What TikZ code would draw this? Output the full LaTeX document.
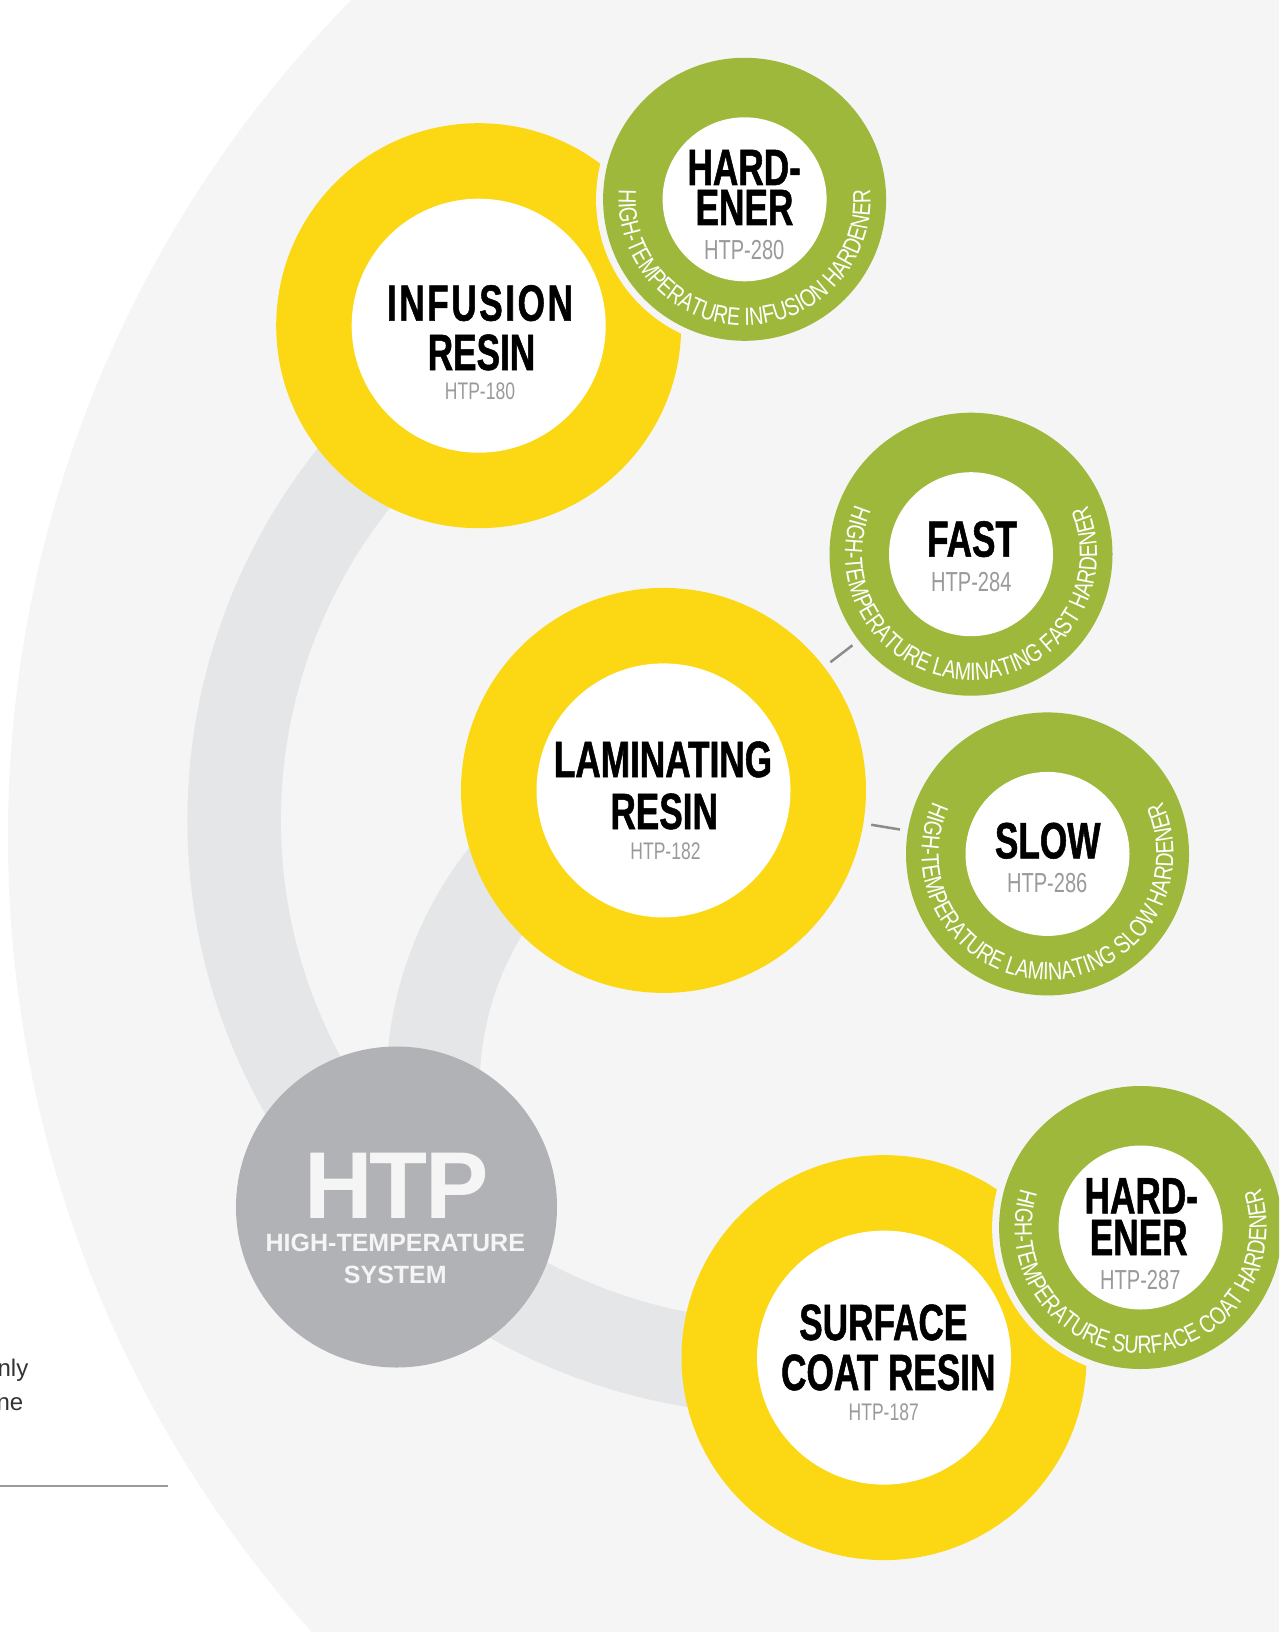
\documentclass[tikz,border=0pt]{standalone}
\usepackage{fontspec}
\setmainfont{Liberation Sans}
\newfontfamily\condfont[FakeStretch=0.69,FakeBold=1]{Liberation Sans}
\newfontfamily\codefont[FakeStretch=0.73]{Liberation Sans}
\newfontfamily\ringfont[FakeStretch=0.78]{Liberation Sans}
\newfontfamily\htpfont{Liberation Sans}
\usetikzlibrary{decorations.text,calc}
\definecolor{bgc}{HTML}{F5F5F5}
\definecolor{yel}{HTML}{FBD813}
\definecolor{grn}{HTML}{9DB83B}
\definecolor{htpgray}{HTML}{B0B2B5}
\definecolor{arcgray}{HTML}{E5E6E7}
\definecolor{codegray}{HTML}{9A9A9A}
\definecolor{conngray}{HTML}{8C8C8C}
\definecolor{leftline}{HTML}{9A9A9A}
\definecolor{lefttext}{HTML}{333333}
\tikzset{
  ybig/.style={circle, fill=yel, minimum size=405pt, inner sep=0pt, outer sep=0pt},
  wres/.style={circle, fill=white, minimum size=254pt, inner sep=0pt, outer sep=0pt},
  gapring/.style={circle, fill=bgc, minimum size=297pt, inner sep=0pt, outer sep=0pt},
  gbig/.style={circle, fill=grn, minimum size=283pt, inner sep=0pt, outer sep=0pt},
  whard/.style={circle, fill=white, minimum size=164pt, inner sep=0pt, outer sep=0pt},
  htpcirc/.style={circle, fill=htpgray, minimum size=321pt, inner sep=0pt, outer sep=0pt},
  ttl/.style={anchor=base, inner sep=0pt, text=black, font=\condfont\bfseries\fontsize{51}{51}\selectfont},
  rcode/.style={anchor=base, inner sep=0pt, text=codegray, font=\codefont\fontsize{24}{24}\selectfont},
  hcode/.style={anchor=base, inner sep=0pt, text=codegray, font=\codefont\fontsize{27.5}{27.5}\selectfont},
  htpbig/.style={anchor=base, inner sep=0pt, text=bgc, font=\htpfont\bfseries\fontsize{95}{95}\selectfont},
  htpsmall/.style={anchor=base, inner sep=0pt, text=bgc, font=\htpfont\bfseries\fontsize{25}{25}\selectfont},
  conn/.style={draw=conngray, line width=2.5pt, shorten >=8pt, shorten <=8pt},
  band/.style={draw=arcgray, line width=93.5pt},
  ringtext/.style={decorate, decoration={text along path, text align=center, text color=white,
      text={|\ringfont\fontsize{25}{25}\selectfont|#1}}},
}
\begin{document}
\begin{tikzpicture}[x=1pt,y=1pt]
\useasboundingbox (0,0) rectangle (1279,-1632);
\clip (0,0) rectangle (1279,-1632);
\fill[white] (0,0) rectangle (1279,-1632);
% large background disc
\fill[bgc] (1200,-837) circle[radius=1192pt];
% cut-off text on the left and rule
\node[anchor=base east, inner sep=0pt, text=lefttext, font=\fontsize{24}{24}\selectfont] (lt1) at (28.5,-1376) {nly};
\node[anchor=base east, inner sep=0pt, text=lefttext, font=\fontsize{24}{24}\selectfont] (lt2) at (23.5,-1410) {ne};
\coordinate (rl1) at (0,-1486);
\coordinate (rl2) at (168,-1486);
\draw[leftline, line width=2.2pt] (rl1) -- (rl2);
% grey connecting bands
\coordinate (a1c) at (782,-820);
\coordinate (a2c) at (770,-1086);
\draw[band] ($(a1c)+(120:547.75pt)$) arc[start angle=120, end angle=290, radius=547.75pt];
\draw[band] ($(a2c)+(120:337pt)$) arc[start angle=120, end angle=200, radius=337pt];
% HTP hub
\node[htpcirc] (htp) at (396.5,-1207) {};
\node[htpbig] (htpt) at (396.3,-1218.3) {\addfontfeature{LetterSpace=-3}HTP};
\node[htpsmall] (htps1) at (395.3,-1251.7) {HIGH-TEMPERATURE};
\node[htpsmall] (htps2) at (395.3,-1283.3) {SYSTEM};
% resins
\node[ybig] (inf) at (478.7,-325.7) {};
\node[wres] (infw) at (478.7,-325.7) {};
\node[ybig] (lam) at (663.5,-790.4) {};
\node[wres] (lamw) at (663.5,-790.4) {};
\node[ybig] (sur) at (884,-1357.6) {};
\node[wres] (surw) at (884,-1357.6) {};
% hardeners
\node[gapring] (hd1g) at (744.6,-199.3) {};
\node[gbig] (hd1) at (744.6,-199.3) {};
\node[whard] (hd1w) at (744.6,-199.3) {};
\node[gbig] (fast) at (971,-554.2) {};
\node[whard] (fastw) at (971,-554.2) {};
\node[gbig] (slow) at (1047.5,-853.9) {};
\node[whard] (sloww) at (1047.5,-853.9) {};
\node[gapring] (hd3g) at (1140.6,-1227.5) {};
\node[gbig] (hd3) at (1140.6,-1227.5) {};
\node[whard] (hd3w) at (1140.6,-1227.5) {};
% ring texts
\path[ringtext={HIGH-TEMPERATURE INFUSION HARDENER}] ($(hd1.center)+(90:126pt)$) arc[start angle=90, end angle=450, radius=126pt];
\path[ringtext={HIGH-TEMPERATURE LAMINATING FAST HARDENER}] ($(fast.center)+(90:126pt)$) arc[start angle=90, end angle=450, radius=126pt];
\path[ringtext={HIGH-TEMPERATURE LAMINATING SLOW HARDENER}] ($(slow.center)+(90:126pt)$) arc[start angle=90, end angle=450, radius=126pt];
\path[ringtext={HIGH-TEMPERATURE SURFACE COAT HARDENER}] ($(hd3.center)+(90:126pt)$) arc[start angle=90, end angle=450, radius=126pt];
% resin labels
\node[ttl] (inft1) at (480,-320.7) {\addfontfeature{LetterSpace=5}INFUSION};
\node[ttl] (inft2) at (481.5,-370) {RESIN};
\node[rcode] (infc) at (480,-399.3) {HTP-180};
\node[ttl] (lamt1) at (663,-777) {LAMINATING};
\node[ttl] (lamt2) at (664.2,-829) {RESIN};
\node[rcode] (lamc) at (665.5,-859.3) {HTP-182};
\node[ttl] (surt1) at (883.3,-1340) {SURFACE};
\node[ttl] (surt2) at (888.3,-1390) {COAT RESIN};
\node[rcode] (surc) at (883.7,-1420) {HTP-187};
% hardener labels
\node[ttl] (hd1t1) at (744.2,-185) {HARD-};
\node[ttl] (hd1t2) at (744.5,-225) {ENER};
\node[hcode] (hd1c) at (744.2,-259.3) {HTP-280};
\node[ttl] (fastt) at (972,-556.7) {FAST};
\node[hcode] (fastc) at (971.3,-591.7) {HTP-284};
\node[ttl] (slowt) at (1047.7,-858.3) {SLOW};
\node[hcode] (slowc) at (1047.2,-892.7) {HTP-286};
\node[ttl] (hd3t1) at (1141.3,-1213.3) {HARD-};
\node[ttl] (hd3t2) at (1138.7,-1255) {ENER};
\node[hcode] (hd3c) at (1140.3,-1289.3) {HTP-287};
% connectors
\draw[conn] (lam) -- (fast);
\draw[conn] (lam) -- (slow);
\end{tikzpicture}
\end{document}
